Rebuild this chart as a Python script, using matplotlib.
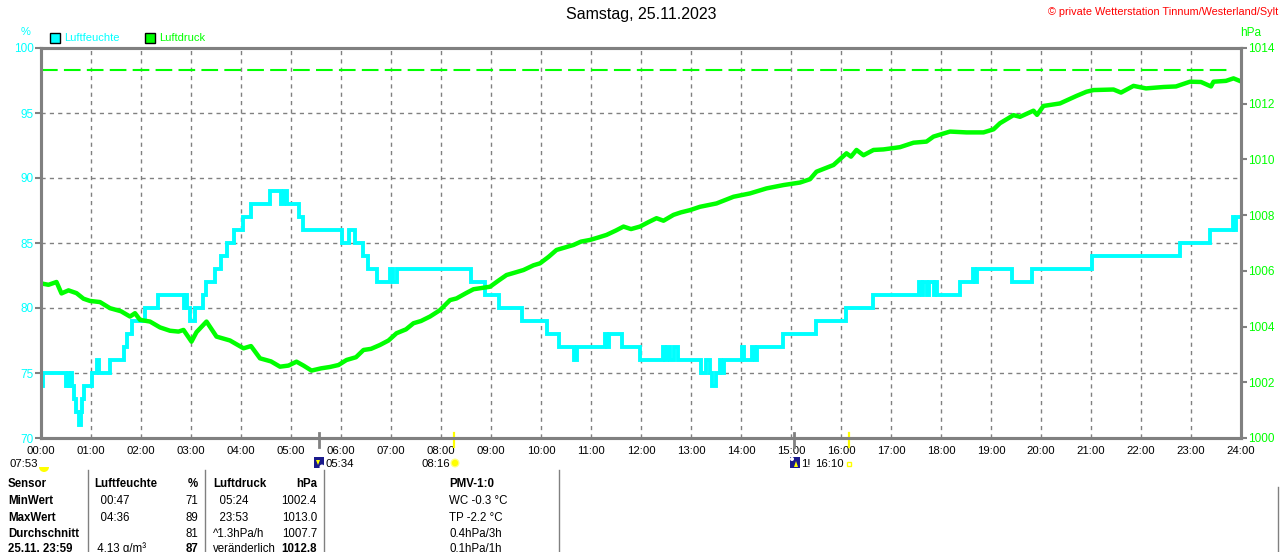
import matplotlib
matplotlib.use('Agg')
import matplotlib.pyplot as plt
from matplotlib.patches import Rectangle, Wedge, Circle, Polygon

W, H = 1280, 552
CYAN = '#00ffff'
GREEN = '#00ff00'
GRAY = '#808080'

plt.rcParams['font.family'] = ['Liberation Sans', 'DejaVu Sans']
FONT = ['Liberation Sans', 'DejaVu Sans']

# Luftfeuchte (%), Stufen: Zeitpunkt (h) und neuer Wert
hum_t = [0.0, 0.03, 0.5, 0.53, 0.56, 0.59, 0.61, 0.65, 0.70, 0.75, 0.79, 0.82, 0.85,
         1.01, 1.11, 1.15, 1.38, 1.65, 1.71, 1.81, 2.08, 2.33, 2.85, 2.88, 2.91, 2.98,
         3.08, 3.23, 3.30, 3.48, 3.60, 3.71, 3.85, 4.03, 4.19, 4.58, 4.79, 4.85, 4.91,
         5.15, 5.23, 6.01, 6.15, 6.28, 6.43, 6.53, 6.71, 6.97, 7.03, 7.11, 8.59, 8.88,
         9.15, 9.61, 10.11, 10.35, 10.65, 10.71, 11.28, 11.31, 11.35, 11.61, 11.97,
         12.43, 12.48, 12.51, 12.58, 12.65, 12.73, 13.20, 13.30, 13.37, 13.41, 13.50,
         13.57, 13.60, 13.65, 14.01, 14.05, 14.21, 14.27, 14.31, 14.83, 15.50, 16.10,
         16.65, 17.55, 17.62, 17.65, 17.72, 17.75, 17.85, 17.88, 17.91, 18.38, 18.63,
         18.68, 18.71, 19.41, 19.81, 21.01, 22.78, 23.37, 23.83, 23.86, 23.90, 24.0]
hum_v = [74, 75, 74, 75, 74, 75, 74, 73, 72, 71, 72, 73, 74,
         75, 76, 75, 76, 77, 78, 79, 80, 81, 80, 81, 80, 79,
         80, 81, 82, 83, 84, 85, 86, 87, 88, 89, 88, 89, 88,
         87, 86, 85, 86, 85, 84, 83, 82, 83, 82, 83, 82, 81,
         80, 79, 78, 77, 76, 77, 78, 77, 78, 77, 76,
         77, 76, 77, 76, 77, 76, 75, 76, 75, 74, 75,
         76, 75, 76, 77, 76, 77, 76, 77, 78, 79, 80,
         81, 82, 81, 82, 81, 82, 81, 82, 81, 82, 83,
         82, 83, 82, 83, 84, 85, 86, 87, 86, 87, 87]

# Luftdruck (hPa)
press_t = [0.0, 0.15, 0.31, 0.41, 0.55, 0.71, 0.85, 0.98, 1.18, 1.38, 1.6, 1.78, 1.88,
           1.98, 2.18, 2.38, 2.58, 2.75, 2.85, 3.01, 3.11, 3.31, 3.51, 3.78, 4.05, 4.2,
           4.38, 4.6, 4.78, 4.95, 5.11, 5.25, 5.41, 5.6, 5.78, 5.95, 6.11, 6.3, 6.45,
           6.6, 6.78, 6.95, 7.11, 7.3, 7.45, 7.6, 7.78, 7.98, 8.18, 8.31, 8.5, 8.65,
           8.98, 9.15, 9.31, 9.5, 9.65, 9.85, 9.98, 10.15, 10.31, 10.5, 10.65, 10.8,
           10.98, 11.15, 11.31, 11.5, 11.65, 11.8, 11.98, 12.15, 12.31, 12.45, 12.65,
           12.8, 12.98, 13.18, 13.51, 13.85, 14.18, 14.51, 14.85, 15.18, 15.38, 15.51,
           15.85, 16.11, 16.2, 16.31, 16.45, 16.65, 16.85, 17.18, 17.45, 17.71, 17.85,
           18.18, 18.51, 18.85, 19.05, 19.18, 19.45, 19.58, 19.85, 19.92, 20.05, 20.38,
           20.71, 20.91, 21.05, 21.45, 21.6, 21.85, 22.1, 22.45, 22.7, 22.98, 23.2,
           23.4, 23.45, 23.7, 23.85, 24.0]
press_v = [1005.55, 1005.5, 1005.6, 1005.19, 1005.3, 1005.2, 1005.0, 1004.92, 1004.88,
           1004.66, 1004.55, 1004.36, 1004.48, 1004.24, 1004.18, 1003.97, 1003.85,
           1003.82, 1003.88, 1003.46, 1003.8, 1004.18, 1003.64, 1003.5, 1003.22, 1003.3,
           1002.86, 1002.75, 1002.56, 1002.6, 1002.74, 1002.6, 1002.42, 1002.5, 1002.55,
           1002.62, 1002.8, 1002.9, 1003.16, 1003.2, 1003.34, 1003.5, 1003.76, 1003.9,
           1004.12, 1004.2, 1004.36, 1004.59, 1004.95, 1005.01, 1005.2, 1005.34,
           1005.43, 1005.65, 1005.85, 1005.95, 1006.03, 1006.2, 1006.27, 1006.5,
           1006.75, 1006.85, 1006.93, 1007.05, 1007.11, 1007.2, 1007.29, 1007.45,
           1007.59, 1007.5, 1007.59, 1007.75, 1007.89, 1007.8, 1008.01, 1008.1,
           1008.18, 1008.3, 1008.42, 1008.66, 1008.78, 1008.96, 1009.08, 1009.17,
           1009.29, 1009.56, 1009.8, 1010.22, 1010.1, 1010.34, 1010.15, 1010.34,
           1010.36, 1010.44, 1010.6, 1010.64, 1010.82, 1011.0, 1010.97, 1010.97,
           1011.08, 1011.3, 1011.59, 1011.53, 1011.75, 1011.6, 1011.92, 1012.01,
           1012.28, 1012.43, 1012.49, 1012.51, 1012.4, 1012.64, 1012.55, 1012.6,
           1012.62, 1012.79, 1012.78, 1012.62, 1012.79, 1012.82, 1012.91, 1012.8]

ref_press = 1013.2
ref_end = 23.8

hour_ticks = list(range(25))
hour_labels = ['%02d:00' % h for h in hour_ticks]
hum_ticks = [70, 75, 80, 85, 90, 95, 100]
press_ticks = [1000, 1002, 1004, 1006, 1008, 1010, 1012, 1014]

# Sonne / Mond Ereignisse
event_t = [5 + 34/60, 8 + 16/60, 15 + 4/60, 16 + 10/60]
event_c = [GRAY, 'yellow', GRAY, 'yellow']

table_rows = [
    ['Sensor', 'Luftfeuchte', '%', 'Luftdruck', 'hPa', 'PMV-1:0'],
    ['MinWert', '  00:47', '71', '  05:24', '1002.4', 'WC -0.3 °C'],
    ['MaxWert', '  04:36', '89', '  23:53', '1013.0', 'TP -2.2 °C'],
    ['Durchschnitt', '', '81', '^1.3hPa/h', '1007.7', '0.4hPa/3h'],
    ['25.11. 23:59', ' 4.13 g/m³', '87', 'veränderlich', '1012.8', '0.1hPa/1h'],
]

fig = plt.figure(figsize=(W / 100, H / 100), dpi=100)
ax = fig.add_axes([41 / W, 1 - 438 / H, 1200 / W, 390 / H])
ax.set_xlim(0, 24)
ax.set_ylim(70, 100)
ax.plot(hum_t, hum_v, color=CYAN, lw=2.8, drawstyle='steps-post', solid_joinstyle='miter')
ax.set_xticks(hour_ticks)
ax.set_xticklabels(hour_labels, family=FONT, fontsize=8.2)
ax.set_yticks(hum_ticks)
ax.set_yticklabels([str(v) for v in hum_ticks], family=FONT, fontsize=8.5)
ax.tick_params(axis='x', length=0, pad=5.5, labelcolor='black')
ax.tick_params(axis='y', length=4, width=1.5, color=GRAY, labelcolor=CYAN, pad=1)
ax.grid(True, color=GRAY, lw=1, ls=(0, (3, 3)))

ax2 = ax.twinx()
ax2.set_ylim(1000, 1014)
ax2.plot(press_t, press_v, color=GREEN, lw=3.2)
ax2.plot([0, ref_end], [ref_press, ref_press], color=GREEN, lw=1.5, ls=(0, (8, 3)))
ax2.set_yticks(press_ticks)
ax2.set_yticklabels([str(v) for v in press_ticks], family=FONT, fontsize=8.5)
ax2.tick_params(axis='y', length=4, width=1.5, color=GRAY, labelcolor=GREEN, pad=1)

for a in (ax, ax2):
    for s in a.spines.values():
        s.set_color(GRAY)
        s.set_linewidth(2.2)

for t, c in zip(event_t, event_c):
    ax.plot([t, t], [-0.023, 0.012], transform=ax.get_xaxis_transform(),
            color=c, lw=2 if c == GRAY else 1.6, clip_on=False, zorder=5)

# Overlay in Pixelkoordinaten fuer Texte und Symbole
ov = fig.add_axes([0, 0, 1, 1], zorder=5)
ov.set_xlim(0, W)
ov.set_ylim(H, 0)
ov.axis('off')

ov.text(641, 15, 'Samstag, 25.11.2023', ha='center', va='center', fontsize=11.5)
ov.text(1278, 12, '© private Wetterstation Tinnum/Westerland/Sylt', ha='right',
        va='center', color='red', fontsize=7.8)
ov.text(26, 32, '%', ha='center', va='center', color=CYAN, fontsize=8)
ov.text(1240, 33, 'hPa', ha='left', va='center', color=GREEN, fontsize=8.5)

ov.add_patch(Rectangle((50, 33), 10, 10, facecolor=CYAN, edgecolor='black', lw=1))
ov.text(64, 38, 'Luftfeuchte', ha='left', va='center', color=CYAN, fontsize=8)
ov.add_patch(Rectangle((145, 33), 10, 10, facecolor=GREEN, edgecolor='black', lw=1))
ov.text(159, 38, 'Luftdruck', ha='left', va='center', color=GREEN, fontsize=8)

# Zeile mit Sonnen- und Mondzeiten
ov.text(38, 464, '07:53', ha='right', va='center', fontsize=8.2)
ov.add_patch(Wedge((44, 467), 5, 0, 180, facecolor='yellow', edgecolor='none'))
ov.add_patch(Rectangle((314, 457), 10, 11, facecolor='#1a1a8c', edgecolor='none'))
ov.add_patch(Polygon([(316, 460), (320, 460), (318, 465)], facecolor='yellow'))
ov.add_patch(Circle((322, 467), 2.5, facecolor='white', edgecolor='none'))
ov.text(325, 464, '05:34', ha='left', va='center', fontsize=8.2)
ov.text(450, 464, '08:16', ha='right', va='center', fontsize=8.2)
ov.add_patch(Circle((455, 463), 4.5, facecolor='#ffff80', edgecolor='none'))
ov.add_patch(Circle((455, 463), 3.2, facecolor='yellow', edgecolor='none'))
ov.add_patch(Rectangle((790, 457), 10, 11, facecolor='#1a1a8c', edgecolor='none'))
ov.add_patch(Polygon([(794, 467), (798, 467), (796, 461)], facecolor='yellow'))
ov.add_patch(Circle((792, 459), 2, facecolor='white', edgecolor='none'))
ov.text(801, 464, '1!', ha='left', va='center', fontsize=8.2)
ov.text(815, 464, '16:10', ha='left', va='center', fontsize=8.2)
ov.add_patch(Rectangle((847, 462), 4, 4, facecolor='none', edgecolor='yellow', lw=1))

# Tabelle
for xl in (88, 205, 324, 559):
    ov.plot([xl, xl], [470, H], color=GRAY, lw=1)
ov.plot([1278, 1278], [487, H], color=GRAY, lw=1)

row_y = [484, 501, 518, 534, 549]
col_x = [8, 94, 198, 213, 317, 449]
col_ha = ['left', 'left', 'right', 'left', 'right', 'left']
for r, (yy, row) in enumerate(zip(row_y, table_rows)):
    for c, txt in enumerate(row):
        bold = r == 0 or c == 0 or (r == 4 and c in (2, 4))
        ov.text(col_x[c], yy, txt, ha=col_ha[c], va='center', fontsize=8.3,
                fontweight='bold' if bold else 'normal')

fig.savefig('out.png', dpi=100)
